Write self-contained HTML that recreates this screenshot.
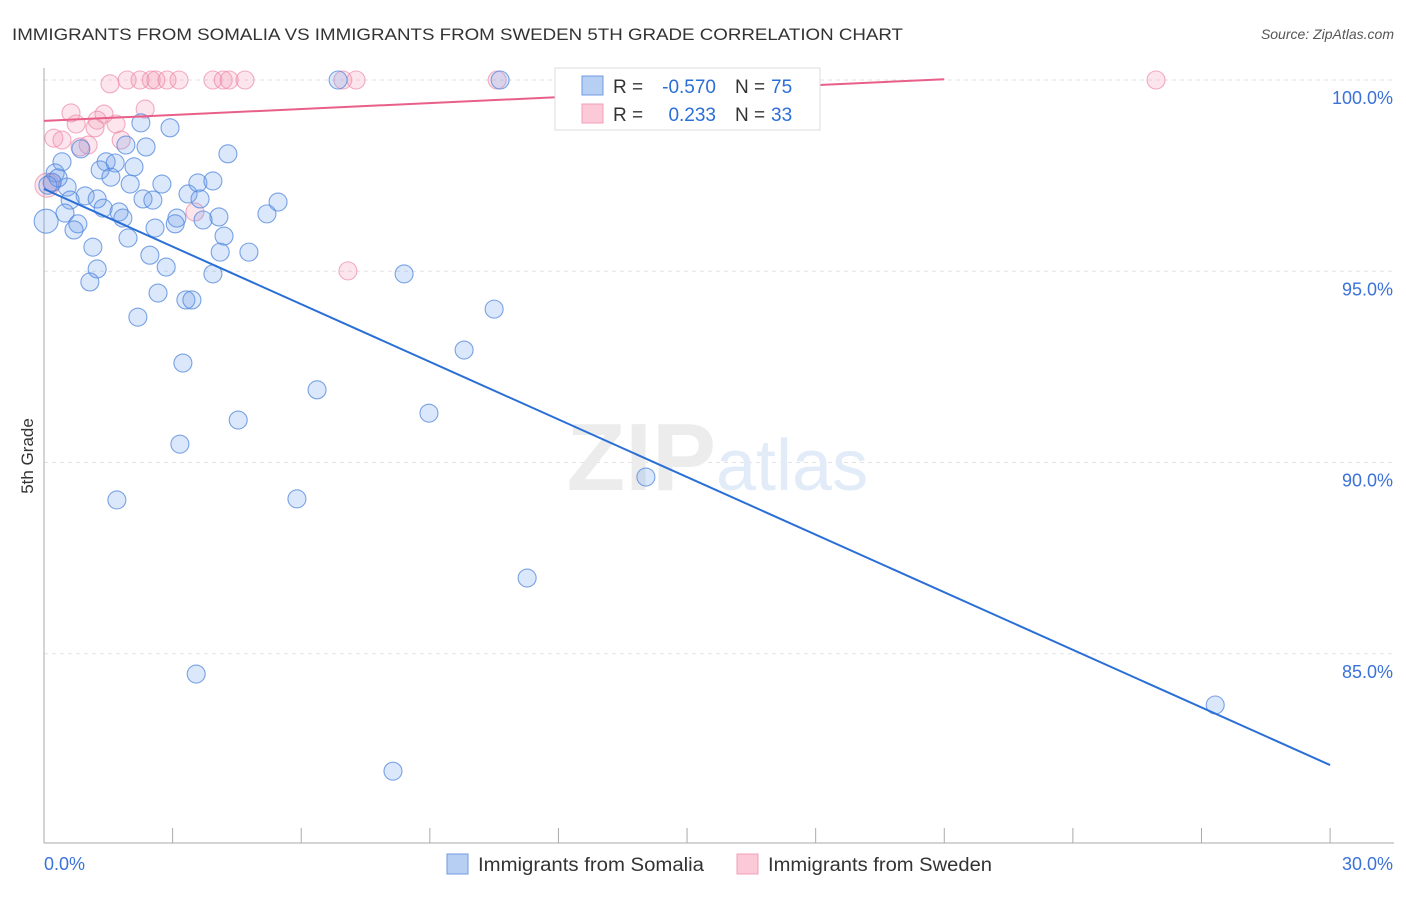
<!DOCTYPE html>
<html><head><meta charset="utf-8"><style>
body{margin:0;background:#fff;font-family:"Liberation Sans",sans-serif;}
svg text{font-family:"Liberation Sans",sans-serif;}
</style></head><body>
<svg width="1406" height="892" viewBox="0 0 1406 892" xmlns="http://www.w3.org/2000/svg">
<text x="12" y="40" font-size="17" fill="#333" textLength="891" lengthAdjust="spacingAndGlyphs">IMMIGRANTS FROM SOMALIA VS IMMIGRANTS FROM SWEDEN 5TH GRADE CORRELATION CHART</text>
<text x="1394" y="39" font-size="14" font-style="italic" fill="#555" text-anchor="end">Source: ZipAtlas.com</text>
<text transform="translate(33,456) rotate(-90)" font-size="17" fill="#333" text-anchor="middle">5th Grade</text>
<g id="grid"></g>
<text x="716" y="490" font-size="96" font-family="Liberation Serif" fill="#ececec" text-anchor="end" font-weight="bold">ZIP</text>
<text x="716" y="490" font-size="72" fill="#e2ecf8">atlas</text>
<g id="marks"></g>
<g id="legend">
<rect x="555" y="68" width="265" height="62" fill="#fff" stroke="#ddd"/>
<rect x="582" y="76" width="21" height="19" fill="#b7cff2" stroke="#6f9be0"/>
<rect x="582" y="104" width="21" height="19" fill="#fbc9d8" stroke="#f0a0b8"/>
<text x="613" y="93" font-size="19" fill="#333">R =</text>
<text x="716" y="93" font-size="19" fill="#2a6fd6" text-anchor="end">-0.570</text>
<text x="735" y="93" font-size="19" fill="#333">N =</text>
<text x="771" y="93" font-size="19" fill="#2a6fd6">75</text>
<text x="613" y="121" font-size="19" fill="#333">R =</text>
<text x="716" y="121" font-size="19" fill="#2a6fd6" text-anchor="end">0.233</text>
<text x="735" y="121" font-size="19" fill="#333">N =</text>
<text x="771" y="121" font-size="19" fill="#2a6fd6">33</text>
</g>
<rect x="447" y="854" width="21" height="20" fill="#b7cff2" stroke="#6f9be0"/>
<text x="478" y="871" font-size="19" fill="#333" textLength="226" lengthAdjust="spacingAndGlyphs">Immigrants from Somalia</text>
<rect x="737" y="854" width="21" height="20" fill="#fbc9d8" stroke="#f0a0b8"/>
<text x="768" y="871" font-size="19" fill="#333" textLength="224" lengthAdjust="spacingAndGlyphs">Immigrants from Sweden</text>
</svg>
<script>
const xTickVals=[0,3,6,9,12,15,18,21,24,27,30];
const yTickVals=[100,95,90,85];
const yTickLabels=["100.0%","95.0%","90.0%","85.0%"];
const somaliaX=[10.64,6.86,2.26,2.94,4.29,2.38,1.91,0.86,0.42,1.45,1.66,1.31,2.10,0.26,1.56,2.01,0.54,2.75,3.36,3.59,3.94,0.96,0.61,1.24,2.31,2.54,3.64,5.46,1.38,0.49,1.75,1.84,3.10,4.08,5.20,3.71,3.06,2.59,0.79,0.70,4.20,1.96,1.14,2.47,4.11,4.78,2.85,1.24,3.94,8.40,1.07,2.66,3.31,3.45,10.50,2.19,9.80,3.24,6.37,8.98,4.53,3.17,14.04,1.70,5.90,11.27,3.55,27.32,8.14,0.05,0.19,0.33,0.09];
const somaliaY=[100,100,98.88,98.75,98.07,98.25,98.30,98.20,97.86,97.86,97.83,97.65,97.73,97.57,97.46,97.28,97.20,97.28,97.02,97.31,97.36,96.97,96.86,96.89,96.89,96.86,96.89,96.81,96.65,96.52,96.55,96.39,96.39,96.42,96.50,96.34,96.24,96.13,96.24,96.08,95.92,95.87,95.63,95.42,95.50,95.50,95.11,95.06,94.93,94.93,94.72,94.43,94.25,94.25,94.01,93.80,92.94,92.60,91.90,91.29,91.11,90.48,89.62,89.02,89.05,86.98,84.47,83.66,81.93,96.31,97.33,97.44,97.25];
const swedenX=[1.54,1.94,2.24,2.50,2.61,2.87,3.15,3.94,4.18,4.32,4.69,6.97,7.28,10.57,25.94,0.63,1.40,2.36,1.24,0.75,1.68,1.19,0.23,0.42,1.80,1.03,0.84,0.07,3.52,7.09,0.19];
const swedenY=[99.90,100,100,100,100,100,100,100,100,100,100,100,100,100,100,99.14,99.11,99.24,98.95,98.85,98.85,98.75,98.48,98.43,98.43,98.30,98.25,97.25,96.55,95.01,97.31];
const somaliaTrend=[[0,97.15],[30,82.09]];
const swedenTrend=[[0,98.93],[21,100.02]];
const NS="http://www.w3.org/2000/svg";
const xS=v=>44+v*42.87;
const yS=v=>80+(100-v)*38.25;
function mk(t,a,p){const e=document.createElementNS(NS,t);for(const k in a)e.setAttribute(k,a[k]);p.appendChild(e);return e;}
const grid=document.getElementById('grid');
yTickVals.forEach((v,i)=>{
 const l=mk('line',{x1:44,x2:1394,y1:yS(v),y2:yS(v),stroke:'#e2e2e2','stroke-dasharray':'4,4'},grid);
 
 
 const t=mk('text',{x:1393,y:yS(v)+24,'font-size':18,fill:'#3a72d8','text-anchor':'end'},grid);
 t.textContent=yTickLabels[i];
 
 
});
const ax=mk('line',{x1:44,x2:44,y1:68,y2:843,stroke:'#aaa'},grid);


const bx=mk('line',{x1:44,x2:1394,y1:843,y2:843,stroke:'#aaa'},grid);


xTickVals.forEach(v=>{
 const t=mk('line',{x1:xS(v),x2:xS(v),y1:828,y2:843,stroke:'#aaa'},grid);
 
 
});
const x0=mk('text',{x:44,y:870,'font-size':18,fill:'#3a72d8'},grid);x0.textContent='0.0%';


const x1=mk('text',{x:1393,y:870,'font-size':18,fill:'#3a72d8','text-anchor':'end'},grid);x1.textContent='30.0%';


const marks=document.getElementById('marks');
swedenX.forEach((x,i)=>{
 const c=mk('circle',{cx:xS(x),cy:yS(swedenY[i]),r:(x<0.1?12:9),fill:'rgba(244,150,180,0.25)',stroke:'rgba(236,140,170,0.7)','stroke-width':1.1},marks);
 
 
});
somaliaX.forEach((x,i)=>{
 const c=mk('circle',{cx:xS(x),cy:yS(somaliaY[i]),r:(x<0.07?12:9),fill:'rgba(110,160,235,0.25)',stroke:'rgba(80,135,220,0.75)','stroke-width':1.1},marks);
 
 
});
const l1=mk('line',{x1:xS(somaliaTrend[0][0]),y1:yS(somaliaTrend[0][1]),x2:xS(somaliaTrend[1][0]),y2:yS(somaliaTrend[1][1]),stroke:'#2a6fd6','stroke-width':2},marks);


const l2=mk('line',{x1:xS(swedenTrend[0][0]),y1:yS(swedenTrend[0][1]),x2:xS(swedenTrend[1][0]),y2:yS(swedenTrend[1][1]),stroke:'#e8608a','stroke-width':2},marks);


</script>
</body></html>
